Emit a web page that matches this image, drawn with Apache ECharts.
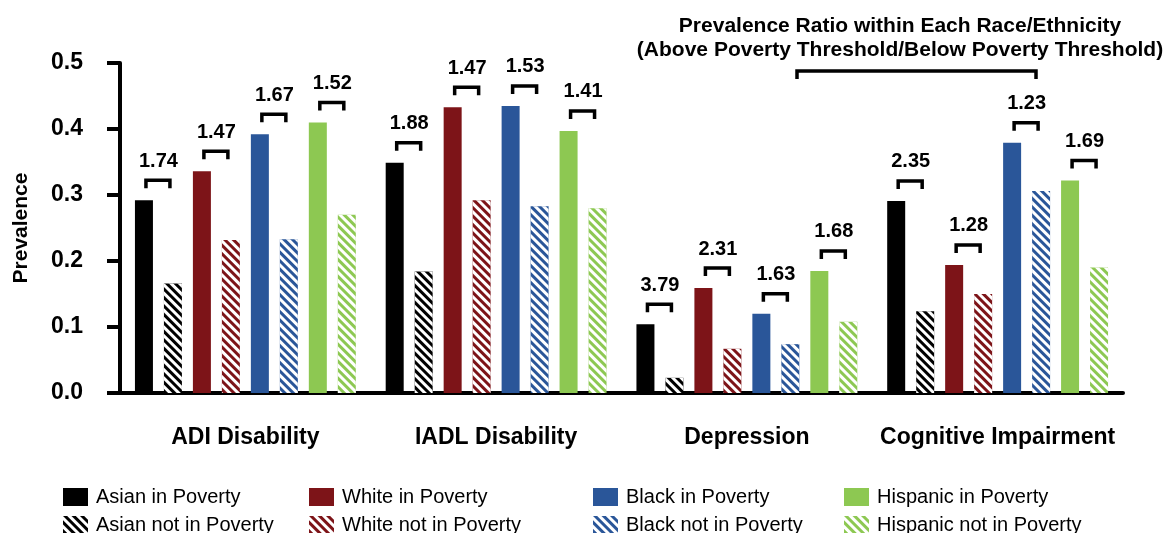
<!DOCTYPE html>
<html><head><meta charset="utf-8">
<script src="https://cdn.jsdelivr.net/npm/echarts@6/dist/echarts.min.js"></script>
<style>html,body{margin:0;padding:0;background:#fff}#c{width:1169px;height:533px}</style>
</head><body><div id="c"></div>
<script>
const categories = ['ADI Disability', 'IADL Disability', 'Depression', 'Cognitive Impairment'];
const asianPoverty       = [0.292, 0.349, 0.104, 0.291];
const asianNotPoverty    = [0.166, 0.184, 0.023, 0.124];
const whitePoverty       = [0.336, 0.433, 0.159, 0.194];
const whiteNotPoverty    = [0.232, 0.292, 0.067, 0.150];
const blackPoverty       = [0.392, 0.435, 0.120, 0.379];
const blackNotPoverty    = [0.233, 0.283, 0.074, 0.306];
const hispanicPoverty    = [0.410, 0.397, 0.185, 0.322];
const hispanicNotPoverty = [0.270, 0.280, 0.108, 0.190];
const ratioAsian    = ['1.74', '1.88', '3.79', '2.35'];
const ratioWhite    = ['1.47', '1.47', '2.31', '1.28'];
const ratioBlack    = ['1.67', '1.53', '1.63', '1.23'];
const ratioHispanic = ['1.52', '1.41', '1.68', '1.69'];
const seriesNames = ['Asian in Poverty', 'Asian not in Poverty', 'White in Poverty', 'White not in Poverty',
  'Black in Poverty', 'Black not in Poverty', 'Hispanic in Poverty', 'Hispanic not in Poverty'];
const titleLines = ['Prevalence Ratio within Each Race/Ethnicity', '(Above Poverty Threshold/Below Poverty Threshold)'];

const FONT = '"Liberation Sans", Arial, Helvetica, sans-serif';
const colors = ['#000000', '#7D1418', '#2A5699', '#8DC852'];
const povertyArrays = [asianPoverty, whitePoverty, blackPoverty, hispanicPoverty];
const notPovertyArrays = [asianNotPoverty, whiteNotPoverty, blackNotPoverty, hispanicNotPoverty];
const ratioArrays = [ratioAsian, ratioWhite, ratioBlack, ratioHispanic];
const BAR_W = 18, BAR_GAP = 0.61;

const series = [];
for (let r = 0; r < 4; r++) {
  series.push({
    name: seriesNames[2 * r], type: 'bar', data: povertyArrays[r],
    barWidth: BAR_W, barGap: (BAR_GAP * 100) + '%',
    itemStyle: { color: colors[r] }
  });
  series.push({
    name: seriesNames[2 * r + 1], type: 'bar', data: notPovertyArrays[r],
    barWidth: BAR_W, barGap: (BAR_GAP * 100) + '%',
    itemStyle: {
      color: colors[r],
      decal: { symbol: 'rect', symbolSize: 1, color: '#ffffff', dashArrayX: [1, 0], dashArrayY: [2.3, 2.7], rotation: Math.PI / 4 }
    }
  });
}
const bracketData = [];
for (let c = 0; c < categories.length; c++) {
  for (let r = 0; r < 4; r++) bracketData.push([c, r, povertyArrays[r][c]]);
}
series.push({
  type: 'custom', silent: true, z: 10,
  encode: { x: 0, y: 2 },
  data: bracketData,
  renderItem: function (params, api) {
    const c = api.value(0), r = api.value(1), v = api.value(2);
    const p = api.coord([c, v]);
    const pitch = BAR_W * (1 + BAR_GAP);
    const xs = p[0] + (2 * r - 3.5) * pitch;
    const x1 = xs + 2, x2 = xs + pitch - 3;
    const yTop = p[1] - 20;
    return {
      type: 'group', children: [
        { type: 'polyline', shape: { points: [[x1, yTop + 8], [x1, yTop], [x2, yTop], [x2, yTop + 8]] },
          style: { stroke: '#000', lineWidth: 3.5, fill: null } },
        { type: 'text', style: { text: ratioArrays[r][c], x: xs + pitch / 2, y: p[1] - 39,
          align: 'center', verticalAlign: 'middle', textAlign: 'center', textVerticalAlign: 'middle',
          fontSize: 20, fontWeight: 'bold', fontFamily: FONT, fill: '#000' } }
      ]
    };
  }
});

const legendLefts = [63, 309, 593, 844];
const legends = legendLefts.map((lx, r) => ({
  data: [seriesNames[2 * r], seriesNames[2 * r + 1]],
  orient: 'vertical', left: lx, top: 487, width: 260, height: 120, padding: 0,
  itemWidth: 25, itemHeight: 18, itemGap: 8, icon: 'rect', selectedMode: false,
  textStyle: { fontSize: 20, lineHeight: 20, fontFamily: FONT, color: '#000', padding: [0, 0, 0, 3] }
}));

const chart = echarts.init(document.getElementById('c'), null, { renderer: 'canvas' });
chart.setOption({
  animation: false,
  backgroundColor: '#fff',
  grid: { left: 120, right: 46, top: 63, bottom: 140, containLabel: false },
  legend: legends,
  xAxis: {
    type: 'category', data: categories,
    axisLine: { lineStyle: { color: '#000', width: 4 } },
    axisTick: { alignWithLabel: true, length: 18, lineStyle: { color: '#000', width: 4 } },
    axisLabel: { interval: 0, hideOverlap: false, margin: 33, fontSize: 23, fontWeight: 'bold', fontFamily: FONT, color: '#000' }
  },
  yAxis: {
    type: 'value', min: 0, max: 0.5, interval: 0.1,
    name: 'Prevalence', nameLocation: 'middle', nameGap: 88, nameRotate: 90,
    nameTextStyle: { fontSize: 21, fontWeight: 'bold', fontFamily: FONT, color: '#000' },
    axisLine: { show: true, lineStyle: { color: '#000', width: 4 } },
    axisTick: { show: true, length: 13, lineStyle: { color: '#000', width: 4 } },
    splitLine: { show: false },
    axisLabel: { margin: 37, fontSize: 23, fontWeight: 'bold', fontFamily: FONT, color: '#000',
      formatter: v => v.toFixed(1) }
  },
  graphic: [
    { type: 'text', style: { text: titleLines.join('\n'), x: 900, y: 14, align: 'center', textAlign: 'center',
      fontSize: 21, fontWeight: 'bold', fontFamily: FONT, fill: '#000', lineHeight: 24 } },
    { type: 'polyline', shape: { points: [[797, 79], [797, 71], [1036, 71], [1036, 79]] },
      style: { stroke: '#000', lineWidth: 3.5, fill: null } }
  ],
  series: series
});
</script></body></html>
